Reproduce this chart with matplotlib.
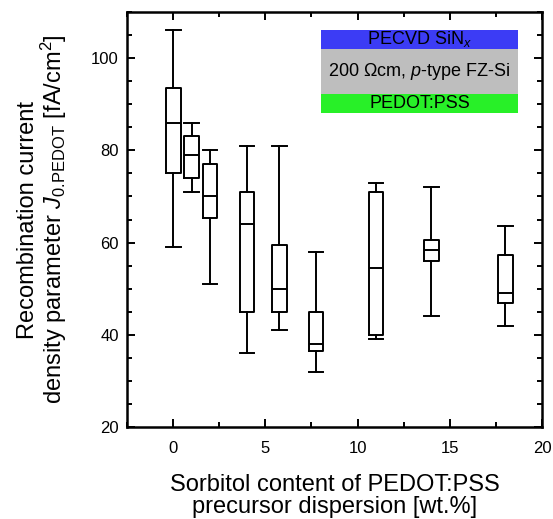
import numpy as np
import matplotlib
matplotlib.use("Agg")
import matplotlib.pyplot as plt
from matplotlib.patches import Rectangle

plt.rcParams["font.family"] = ["Liberation Sans", "DejaVu Sans"]
plt.rcParams["mathtext.fontset"] = "custom"
plt.rcParams["mathtext.rm"] = "Liberation Sans"
plt.rcParams["mathtext.it"] = "Liberation Sans:italic"

# box statistics
sorbitol = [0, 1, 2, 4, 5.75, 7.75, 11, 14, 18]
whisk_lo = [59, 71, 51, 36, 41, 32, 39, 44, 42]
q1 = [75, 74, 65.3, 45, 45, 36.5, 40, 56, 46.8]
med = [86, 79, 70, 64, 50, 38, 54.5, 58.5, 49]
q3 = [93.5, 83, 77, 71, 59.5, 45, 71, 60.5, 57.3]
whisk_hi = [106, 86, 80, 81, 81, 58, 73, 72, 63.5]

stats = []
for i in range(len(sorbitol)):
    stats.append({
        "whislo": whisk_lo[i], "q1": q1[i], "med": med[i],
        "q3": q3[i], "whishi": whisk_hi[i], "fliers": []
    })

fig = plt.figure(figsize=(5.53, 5.19), dpi=100)
ax = fig.add_axes([0.2297, 0.177, 0.7505, 0.800])

line = dict(color="black", linewidth=1.4)
ax.bxp(stats, positions=sorbitol, widths=0.8, showfliers=False,
       boxprops=line, whiskerprops=line, capprops=line,
       medianprops=line, capwidths=0.8, manage_ticks=False)

ax.set_xlim(-2, 20)
ax.set_ylim(20, 110)
ax.set_xticks([0, 5, 10, 15, 20])
ax.set_xticks(np.arange(-2.5, 20.1, 2.5), minor=True)
ax.set_yticks([20, 40, 60, 80, 100])
ax.set_yticks(np.arange(20, 111, 5), minor=True)

ax.tick_params(which="both", direction="in", top=True, right=True,
               labelsize=12, width=1.4)
ax.tick_params(which="major", length=6)
ax.tick_params(which="minor", length=3.5)
ax.tick_params(axis="x", pad=10)
ax.tick_params(axis="y", pad=6)
for s in ax.spines.values():
    s.set_linewidth(1.8)

ax.set_xlabel("Sorbitol content of PEDOT:PSS\nprecursor dispersion [wt.%]",
              fontsize=17, labelpad=13, linespacing=1.0)
ax.set_ylabel("Recombination current\n"
              r"density parameter $J_{\mathrm{0.}\!\mathrm{PEDOT}}$ [fA/cm$^2$]",
              fontsize=17, labelpad=16, linespacing=1.0)

# layer stack sketch
layers = [
    ("PECVD SiN$_\\mathit{x}$", "#3c3cf5", 0.9108, 0.0458),
    ("200 \u03a9cm, $\\mathit{p}$-type FZ-Si", "#bebebe", 0.8024, 0.1084),
    ("PEDOT:PSS", "#28f028", 0.7573, 0.0451),
]
for txt, col, y0, h in layers:
    ax.add_patch(Rectangle((0.4667, y0), 0.4763, h, transform=ax.transAxes,
                           facecolor=col, edgecolor="none"))
    ax.text(0.705, y0 + h / 2, txt, transform=ax.transAxes,
            ha="center", va="center", fontsize=13)

fig.savefig("out.png", dpi=100)
